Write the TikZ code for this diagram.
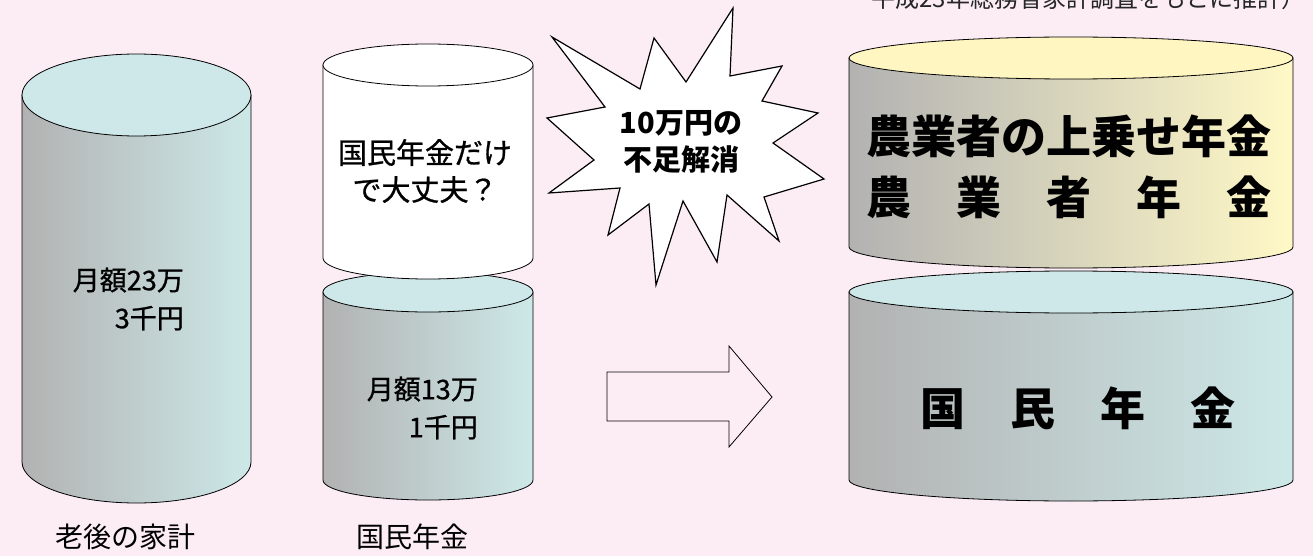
\documentclass[tikz,border=0pt]{standalone}
\usepackage{fontspec}
\setmainfont{Noto Sans CJK JP}
\newfontfamily\medfont[FakeBold=0.9]{Noto Sans CJK JP}
\definecolor{bgpink}{RGB}{252,237,245}
\definecolor{cylgray}{RGB}{178,178,178}
\definecolor{cylcyan}{RGB}{205,232,232}
\definecolor{cyltop}{RGB}{206,232,233}
\definecolor{cylyel}{RGB}{255,248,198}
\definecolor{yeltop}{RGB}{255,246,194}
\newcommand\drawcyl[8]{%
  \pgfmathsetmacro\cylcx{(#1+#2)/2}%
  \pgfmathsetmacro\cylrx{(#2-#1)/2}%
  \shadedraw[left color=#6,right color=#7,draw=black,line width=0.8pt]
    (#1,#3) -- (#1,#4) arc[start angle=180,end angle=0,x radius=\cylrx,y radius=#5] -- (#2,#3) -- cycle;
  \filldraw[fill=#8,draw=black,line width=0.8pt] (\cylcx,#3) ellipse[x radius=\cylrx,y radius=#5];
}
\tikzset{
  txt/.style={inner sep=0pt,text=black},
  small/.style={txt,font={\medfont\fontsize{27}{38}\selectfont}},
  mid/.style={txt,font={\medfont\fontsize{29}{37}\selectfont}},
  lab/.style={txt,font={\fontsize{28}{34}\selectfont}},
  boldmid/.style={txt,font={\bfseries\fontsize{29}{37}\selectfont}},
  big/.style={txt,font={\bfseries\fontsize{45}{61}\selectfont}},
  note/.style={txt,font={\fontsize{24}{28}\selectfont},text=black!85},
  outline/.style={draw=black,line width=0.8pt},
}
\begin{document}
\begin{tikzpicture}[x=1pt,y=-1pt]
\fill[bgpink] (0,0) rectangle (1313,556);
\useasboundingbox (0,0) rectangle (1313,556);

% top note (clipped at the top edge, as in the reference)
\node[note,anchor=east] (n) at (1306,-2) {平成23年総務省家計調査をもとに推計）};

% left cylinder
\drawcyl{22}{251}{95}{462}{41}{cylgray}{cylcyan}{cyltop}
\node[small,anchor=east,align=right] (t1) at (184,299) {月額23万\\3千円};
\node[lab] (l1) at (125,537) {老後の家計};

% middle: lower cylinder then white cylinder
\drawcyl{323}{533}{292}{480}{20}{cylgray}{cylcyan}{cyltop}
\drawcyl{323}{533}{65}{258}{21}{white}{white}{white}
\node[mid,align=center] (t3) at (425,171) {国民年金だけ\\で大丈夫？};
\node[small,anchor=east,align=right] (t2) at (478,408) {月額13万\\1千円};
\node[lab] (l2) at (412,537) {国民年金};

% starburst
\filldraw[fill=white,draw=black,line width=1.2pt,line join=miter]
 (552,37) -- (640,89) -- (654,38) -- (686,82) -- (733,8) -- (730,76) -- (782,66) -- (762,101)
 -- (818,113) -- (773,143) -- (824,179) -- (764,197) -- (779,241) -- (727,195) -- (717,262)
 -- (683,201) -- (656,285) -- (649,204) -- (608,235) -- (620,188) -- (549,193) -- (594,160)
 -- (547,118) -- (605,107) -- cycle;
\node[boldmid,align=center] (s) at (681,142) {10万円の\\不足解消};

% block arrow
\draw[outline] (607,372) -- (729,372) -- (729,346) -- (772,397) -- (729,447) -- (729,421) -- (607,421) -- cycle;

% right cylinders
\drawcyl{849}{1293}{58}{247}{21}{cylgray}{cylyel}{yeltop}
\node[big,align=center] (r1) at (1069,167) {農業者の上乗せ年金\\農　業　者　年　金};
\drawcyl{849}{1293}{292}{480}{21}{cylgray}{cylcyan}{cyltop}
\node[big] (r2) at (1078,408) {国　民　年　金};
\end{tikzpicture}
\end{document}
